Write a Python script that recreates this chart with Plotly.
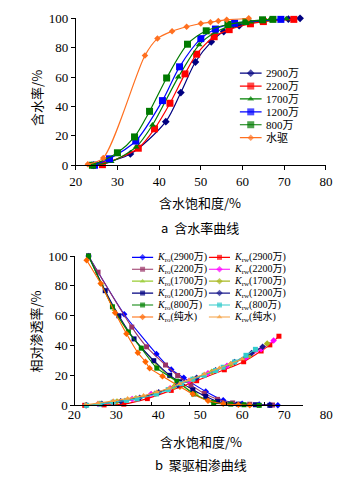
import plotly.graph_objects as go

W, H = 363, 486
SERIF = "Liberation Serif, Noto Sans CJK SC, serif"
CJK = "Noto Sans CJK SC, Liberation Serif, sans-serif"

# ---------------- Panel a: water-cut curves ----------------
NAMES_A = ["2900万", "2200万", "1700万", "1200万", "800万", "水驱"]
SW_A_2900 = [24.3, 33.1, 41.6, 45.2, 48.7, 52.5, 55.5, 59.2, 65.0, 71.0, 73.8]
FW_A_2900 = [0.0, 7.7, 29.7, 49.5, 70.3, 84.0, 91.0, 95.0, 98.5, 99.5, 100.0]
SW_A_2200 = [26.4, 35.0, 38.9, 42.6, 46.2, 49.0, 53.2, 56.8, 61.9, 65.0, 72.3]
FW_A_2200 = [0.4, 11.6, 24.8, 42.2, 62.2, 75.6, 87.5, 92.3, 96.3, 97.8, 99.3]
SW_A_1700 = [23.8, 28.5, 34.5, 38.4, 44.6, 49.6, 53.5, 57.5, 62.0, 66.5, 70.5]
FW_A_1700 = [0.0, 2.5, 12.5, 27.4, 60.0, 82.0, 90.5, 95.0, 97.5, 99.0, 99.7]
SW_A_1200 = [24.5, 28.1, 34.4, 40.8, 44.9, 50.0, 53.5, 58.1, 69.2]
FW_A_1200 = [0.0, 4.4, 16.5, 44.0, 67.0, 86.2, 92.7, 96.7, 99.3]
SW_A_800 = [24.0, 30.0, 34.1, 37.7, 41.8, 46.8, 51.3, 56.5, 60.8, 64.8, 67.3]
FW_A_800 = [0.0, 8.5, 19.3, 36.7, 59.4, 82.4, 91.5, 95.8, 97.8, 99.0, 99.3]
SW_A_WATER = [22.9, 26.6, 36.6, 39.6, 43.1, 46.6, 50.0, 52.3, 54.2, 56.2, 61.5]
FW_A_WATER = [0.7, 5.0, 74.7, 86.2, 91.2, 94.3, 96.5, 97.4, 98.2, 99.0, 100.0]

SW_A = [SW_A_2900, SW_A_2200, SW_A_1700, SW_A_1200, SW_A_800, SW_A_WATER]
FW_A = [FW_A_2900, FW_A_2200, FW_A_1700, FW_A_1200, FW_A_800, FW_A_WATER]
COL_A = ["#000080", "#FF0000", "#008000", "#0000FF", "#007A00", "#FF7020"]
SYM_A = ["diamond", "square", "triangle-up", "square", "square", "diamond"]
SIZE_A = [6, 7, 6, 7, 7, 5]

# ---------------- Panel b: relative permeability ----------------
NAMES_B = ["2900万", "2200万", "1700万", "1200万", "800万", "纯水"]
# Kro (oil)
SW_RO_2900 = [23.5, 32.9, 41.4, 45.3, 48.6, 54.4, 59.0, 64.0, 68.5, 71.3, 73.4]
KRO_2900 = [100, 61.0, 34.4, 24.0, 18.4, 9.3, 3.4, 1.1, 0.5, 0.3, 0.0]
SW_RO_2200 = [23.5, 26.0, 34.9, 38.8, 43.8, 47.0, 50.5, 54.0, 57.5, 61.5, 66.0, 72.0]
KRO_2200 = [100, 89.2, 52.4, 39.2, 27.0, 20.0, 13.5, 8.0, 4.0, 1.6, 0.7, 0.2]
SW_RO_1700 = [23.5, 27.0, 30.3, 34.0, 37.5, 41.5, 45.0, 48.5, 52.0, 56.0, 60.0, 64.5, 68.5]
KRO_1700 = [100, 81.0, 64.0, 49.0, 38.5, 27.0, 19.0, 13.0, 7.0, 2.5, 1.0, 0.4, 0.0]
SW_RO_1200 = [23.5, 27.9, 31.5, 35.5, 40.7, 44.9, 47.6, 51.0, 54.4, 57.5, 63.0, 67.5, 71.3]
KRO_1200 = [100, 76.8, 60.0, 44.5, 29.9, 20.1, 15.8, 10.4, 6.0, 2.5, 0.8, 0.4, 0.0]
SW_RO_800 = [23.5, 29.8, 34.0, 37.4, 41.5, 46.8, 51.2, 56.5, 61.0, 64.5, 68.5]
KRO_800 = [100, 66.0, 49.2, 38.3, 24.9, 16.2, 7.6, 1.8, 0.8, 0.4, 0.0]
SW_RO_WATER = [23.0, 26.7, 30.5, 33.5, 36.5, 38.5, 39.6, 43.0, 47.6, 51.0, 55.0, 59.0, 63.0, 66.0]
KRO_WATER = [97.2, 81.6, 62.0, 48.0, 35.3, 29.2, 24.9, 19.5, 12.5, 7.5, 3.0, 1.0, 0.3, 0.0]
# Krw (water)
SW_RW_2900 = [22.5, 27.6, 32.8, 39.0, 45.3, 52.0, 59.3, 64.4, 69.0, 71.3, 73.7]
KRW_2900 = [0.0, 0.3, 0.8, 4.5, 10.0, 16.5, 23.8, 29.2, 36.4, 40.5, 46.3]
SW_RW_2200 = [22.8, 26.0, 30.0, 35.0, 40.0, 45.0, 50.0, 55.0, 60.0, 65.0, 69.0, 72.3]
KRW_2200 = [0.0, 0.8, 2.0, 4.2, 7.5, 11.5, 16.5, 21.5, 26.5, 32.0, 37.5, 43.5]
SW_RW_1700 = [22.8, 26.5, 31.0, 36.0, 41.0, 46.0, 51.0, 56.0, 61.0, 66.0, 70.6]
KRW_1700 = [0.0, 1.0, 2.5, 4.8, 8.0, 12.5, 17.5, 22.5, 27.5, 33.5, 41.5]
SW_RW_1200 = [23.0, 27.0, 32.0, 37.0, 42.0, 47.0, 52.0, 57.0, 62.0, 66.5, 69.4]
KRW_1200 = [0.0, 1.0, 2.8, 5.0, 8.8, 13.5, 18.5, 23.5, 29.0, 35.0, 39.2]
SW_RW_800 = [23.0, 26.5, 30.0, 33.5, 36.3, 41.4, 44.5, 48.0, 51.0, 54.0, 57.0, 59.0, 62.0, 65.0, 67.5]
KRW_800 = [0.0, 0.8, 2.1, 3.3, 4.3, 7.6, 10.5, 14.5, 17.5, 20.1, 23.3, 25.5, 29.0, 33.5, 37.5]
SW_RW_WATER = [22.8, 26.0, 30.0, 33.8, 38.0, 41.5, 44.8, 47.5, 50.0, 54.0, 58.0, 61.0, 64.0]
KRW_WATER = [0.3, 1.5, 3.0, 4.5, 6.5, 9.0, 11.5, 14.5, 17.0, 21.0, 25.0, 28.0, 31.0]

SW_RO = [SW_RO_2900, SW_RO_2200, SW_RO_1700, SW_RO_1200, SW_RO_800, SW_RO_WATER]
KRO = [KRO_2900, KRO_2200, KRO_1700, KRO_1200, KRO_800, KRO_WATER]
SW_RW = [SW_RW_2900, SW_RW_2200, SW_RW_1700, SW_RW_1200, SW_RW_800, SW_RW_WATER]
KRW = [KRW_2900, KRW_2200, KRW_1700, KRW_1200, KRW_800, KRW_WATER]
COL_RO = ["#0000FF", "#993366", "#99CC33", "#000080", "#008000", "#FF6600"]
SYM_RO = ["diamond", "square", "triangle-up", "square", "square", "diamond"]
COL_RW = ["#FF0000", "#FF00FF", "#A8B820", "#1A1A8C", "#33CCCC", "#F5A040"]
SYM_RW = ["square", "diamond", "diamond", "diamond", "square", "triangle-up"]

AX_TICKS = [20, 30, 40, 50, 60, 70, 80]
AY_TICKS = [0, 20, 40, 60, 80, 100]


def px_x(p):
    return p / W


def px_y(p):
    return 1 - p / H


fig = go.Figure()

# panel a data
for i, name in enumerate(NAMES_A):
    fig.add_trace(go.Scatter(
        x=SW_A[i], y=FW_A[i], mode="lines+markers", xaxis="x", yaxis="y",
        line=dict(color=COL_A[i], width=1.2, shape="spline", smoothing=0.8),
        marker=dict(symbol=SYM_A[i], size=SIZE_A[i], color=COL_A[i], line=dict(width=0)),
        cliponaxis=False, showlegend=False, name=name))

# panel b data
for i, name in enumerate(NAMES_B):
    fig.add_trace(go.Scatter(
        x=SW_RO[i], y=KRO[i], mode="lines+markers", xaxis="x2", yaxis="y2",
        line=dict(color=COL_RO[i], width=1.1, shape="spline", smoothing=0.6),
        marker=dict(symbol=SYM_RO[i], size=5, color=COL_RO[i], line=dict(width=0)),
        cliponaxis=False, showlegend=False, name="Kro " + name))
for i, name in enumerate(NAMES_B):
    fig.add_trace(go.Scatter(
        x=SW_RW[i], y=KRW[i], mode="lines+markers", xaxis="x2", yaxis="y2",
        line=dict(color=COL_RW[i], width=1.1, shape="spline", smoothing=0.6),
        marker=dict(symbol=SYM_RW[i], size=5, color=COL_RW[i], line=dict(width=0)),
        cliponaxis=False, showlegend=False, name="Krw " + name))

# label-only axis for panel b (empty trace keeps the subplot alive)
fig.add_trace(go.Scatter(x=[], y=[], xaxis="x3", yaxis="y2", showlegend=False))

annotations = []

# legend of panel a (rows come from the series order)
for i, name in enumerate(NAMES_A):
    sz = SIZE_A[i]
    fig.add_trace(go.Scatter(
        x=[0, 0.5, 1], y=[i, i, i], mode="lines+markers", xaxis="x4", yaxis="y4",
        line=dict(color=COL_A[i], width=1.2),
        marker=dict(symbol=SYM_A[i], size=[0, sz, 0], color=COL_A[i], line=dict(width=0)),
        showlegend=False, hoverinfo="skip", cliponaxis=False))
    annotations.append(dict(x=1, y=i, xref="x4", yref="y4", text=name, showarrow=False,
                            xanchor="left", yanchor="middle", xshift=2,
                            font=dict(family=SERIF, size=11, color="black")))

# legend of panel b: two columns (Kro | Krw)
for c, (cols, syms, sub) in enumerate([(COL_RO, SYM_RO, "ro"), (COL_RW, SYM_RW, "rw")]):
    for i, name in enumerate(NAMES_B):
        x0 = c * 80
        fig.add_trace(go.Scatter(
            x=[x0, x0 + 11, x0 + 22], y=[i, i, i], mode="lines+markers", xaxis="x5", yaxis="y5",
            line=dict(color=cols[i], width=1.1),
            marker=dict(symbol=syms[i], size=[0, 5, 0], color=cols[i], line=dict(width=0)),
            showlegend=False, hoverinfo="skip", cliponaxis=False))
        annotations.append(dict(x=x0 + 22, y=i, xref="x5", yref="y5",
                                text="<i>K</i><sub>" + sub + "</sub>(" + name + ")",
                                showarrow=False, xanchor="left", yanchor="middle", xshift=2,
                                font=dict(family=SERIF, size=10, color="black")))

# titles / captions
def txt(text, x, y, size=13, angle=0):
    annotations.append(dict(x=px_x(x), y=px_y(y), xref="paper", yref="paper", text=text,
                            showarrow=False, xanchor="center", yanchor="middle",
                            textangle=angle, font=dict(family=CJK, size=size, color="black")))

txt("含水率/%", 30, 94, angle=-90)
txt("含水饱和度/%", 201, 201.7)
txt("a  含水率曲线", 201, 228)
txt("相对渗透率/%", 30, 335, angle=-90)
txt("含水饱和度/%", 201.7, 448.3)
txt("b  聚驱相渗曲线", 201.7, 472.3)

tickfont = dict(family=SERIF, size=13, color="black")
common_x = dict(range=[20, 80], tickvals=AX_TICKS, showgrid=False, zeroline=False,
                linecolor="black", linewidth=1, tickcolor="black", tickfont=tickfont)
common_y = dict(range=[0, 100], tickvals=AY_TICKS, showgrid=False, zeroline=False,
                showline=True, linecolor="black", linewidth=1, tickcolor="black",
                ticks="outside", ticklen=4, tickfont=tickfont)

hidden = dict(visible=False, showgrid=False, zeroline=False, fixedrange=True)

fig.update_layout(
    width=W, height=H, margin=dict(l=0, r=0, t=0, b=0),
    paper_bgcolor="white", plot_bgcolor="rgba(0,0,0,0)",
    showlegend=False,
    xaxis=dict(common_x, domain=[px_x(71.5), px_x(331.7)], anchor="y", showline=True,
               ticks="outside", ticklen=4, showticklabels=True),
    yaxis=dict(common_y, domain=[px_y(163.3), px_y(11.7)], anchor="x"),
    xaxis2=dict(common_x, domain=[px_x(71), px_x(307.7)], anchor="y2", showline=True,
                ticks="inside", ticklen=3, showticklabels=False),
    yaxis2=dict(common_y, domain=[px_y(411), px_y(257)], anchor="x2"),
    xaxis3=dict(common_x, domain=[px_x(70), px_x(332)], anchor="y2", showline=False,
                ticks="", showticklabels=True),
    xaxis4=dict(hidden, domain=[px_x(242), px_x(265)], range=[0, 1], anchor="y4"),
    yaxis4=dict(hidden, domain=[px_y(141.45), px_y(61.65)], range=[5.5, -0.5], anchor="x4"),
    xaxis5=dict(hidden, domain=[px_x(130), px_x(232)], range=[0, 102], anchor="y5"),
    yaxis5=dict(hidden, domain=[px_y(325.95), px_y(252.15)], range=[5.5, -0.5], anchor="x5"),
    annotations=annotations,
)

fig.write_html("out.html", config={"displayModeBar": False, "staticPlot": True},
               post_script="document.body.style.margin='0';")
